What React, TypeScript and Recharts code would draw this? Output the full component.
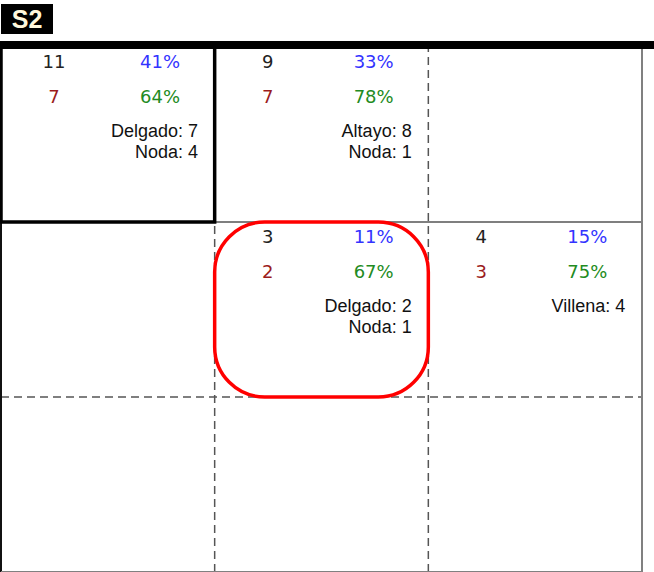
import { ScatterChart, Scatter, XAxis, YAxis, ReferenceLine, ReferenceArea } from "recharts";

// zone cells: column (0 = left) and row (0 = bottom)
const cellCol = [0, 1, 1, 2];
const cellRow = [2, 2, 1, 1];
const pitchCounts = [11, 9, 3, 4];
const pitchPcts = ["41%", "33%", "11%", "15%"];
const swingCounts = [7, 7, 2, 3];
const swingPcts = ["64%", "78%", "67%", "75%"];
const pitcherNotes = [
  ["Delgado: 7", "Noda: 4"],
  ["Altayo: 8", "Noda: 1"],
  ["Delgado: 2", "Noda: 1"],
  ["Villena: 4"],
];

const cells = cellCol.map((c, i) => ({
  x: c,
  y: cellRow[i] + 1,
  count: pitchCounts[i],
  pct: pitchPcts[i],
  swings: swingCounts[i],
  swingPct: swingPcts[i],
  notes: pitcherNotes[i],
}));

const numFont = "'DejaVu Sans', sans-serif";
const nameFont = "'Liberation Sans', Arial, sans-serif";

function CellText(props: any) {
  const { cx, cy, payload } = props;
  if (cx == null || cy == null) return null;
  return (
    <g>
      <text x={cx + 53} y={cy + 21} textAnchor="middle" fontFamily={numFont} fontSize={18} fill="#222">
        {payload.count}
      </text>
      <text x={cx + 159} y={cy + 21} textAnchor="middle" fontFamily={numFont} fontSize={18} fill="#3333ff">
        {payload.pct}
      </text>
      <text x={cx + 53} y={cy + 56} textAnchor="middle" fontFamily={numFont} fontSize={18} fill="#9b1c1c">
        {payload.swings}
      </text>
      <text x={cx + 159} y={cy + 56} textAnchor="middle" fontFamily={numFont} fontSize={18} fill="#228b22">
        {payload.swingPct}
      </text>
      {payload.notes.map((n: string, k: number) => (
        <text key={k} x={cx + 197} y={cy + 90 + k * 21} textAnchor="end" fontFamily={nameFont} fontSize={18} fill="#111">
          {n}
        </text>
      ))}
    </g>
  );
}

export default function App() {
  return (
    <div style={{ position: "absolute", left: 0, top: 0, width: 654, height: 572, background: "#fff" }}>
      <ScatterChart width={654} height={572} margin={{ top: 47, right: 12, bottom: 0, left: 1 }}>
        <XAxis type="number" dataKey="x" domain={[0, 3]} hide />
        <YAxis type="number" dataKey="y" domain={[0, 3]} hide />
        <ReferenceLine x={1} stroke="#555" strokeWidth={1.5} strokeDasharray="8 5" />
        <ReferenceLine x={2} stroke="#555" strokeWidth={1.5} strokeDasharray="8 5" />
        <ReferenceLine y={1} stroke="#555" strokeWidth={1.5} strokeDasharray="8 5" />
        <ReferenceLine y={2} stroke="#555" strokeWidth={1.3} />
        <ReferenceLine x={0} stroke="#111" strokeWidth={2} />
        <ReferenceLine x={3} stroke="#808080" strokeWidth={2} />
        <ReferenceLine y={0} stroke="#808080" strokeWidth={2} />
        <ReferenceArea
          x1={0}
          x2={1}
          y1={2}
          y2={3}
          zIndex={800}
          shape={(p: any) => (
            <rect x={p.x} y={p.y} width={p.width} height={p.height} fill="none" stroke="#000" strokeWidth={3.5} />
          )}
        />
        <ReferenceArea
          x1={1}
          x2={2}
          y1={1}
          y2={2}
          zIndex={800}
          shape={(p: any) => (
            <rect x={p.x} y={p.y} width={p.width} height={p.height} rx={50} ry={50} fill="none" stroke="#ff0000" strokeWidth={3.5} />
          )}
        />
        <Scatter data={cells} shape={CellText} isAnimationActive={false} />
      </ScatterChart>
      <div style={{ position: "absolute", left: 0, top: 41, width: 654, height: 8, background: "#000" }} />
      <div
        style={{
          position: "absolute",
          left: 1,
          top: 4,
          width: 52,
          height: 30,
          background: "#000",
          color: "#fff8dc",
          fontFamily: nameFont,
          fontWeight: "bold",
          fontSize: 25,
          lineHeight: "30px",
          textAlign: "center",
        }}
      >
        S2
      </div>
    </div>
  );
}
